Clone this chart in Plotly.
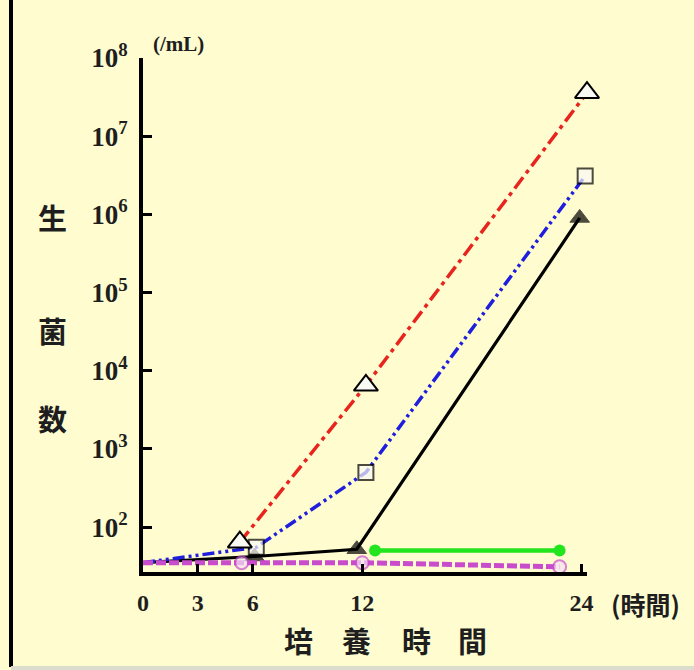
import plotly.graph_objects as go

# ---- data ----
black_x = [0, 6.1, 11.7, 23.9]
black_y = [35, 42, 52, 9.0e5]

green_x = [12.7, 22.8]
green_y = [50, 50]

blue_x = [0, 6.2, 12.2, 24.2]
blue_y = [35, 55, 500, 3.1e6]

red_x = [5.3, 12.2, 24.3]
red_y = [64, 6500, 3.6e7]

mag_x = [0, 5.4, 12.0, 22.8]
mag_y = [35, 35, 35, 31]

x_ticks = [0, 3, 6, 12, 24]
x_ticktext = ["0", "3", "6", "12", "24"]
y_ticks = [1e2, 1e3, 1e4, 1e5, 1e6, 1e7, 1e8]
y_ticktext = ["10<sup>%d</sup>" % e for e in range(2, 9)]

# ---- layout geometry ----
W, H = 694, 670
L, R, T, B = 143, 587, 58, 572
pw, ph = R - L, B - T

def px(x):
    return (x - L) / pw

def py(y):
    return (B - y) / ph

BG = "#FFFCD0"
SERIF = "Liberation Serif"
CJK = "Noto Sans CJK JP"
TXT = "#1E1E1E"

fig = go.Figure()

fig.add_trace(go.Scatter(
    x=black_x, y=black_y, mode="lines+markers",
    line=dict(color="black", width=3.2),
    marker=dict(symbol="triangle-up", size=[0, 17, 17, 17], color="black",
                line=dict(color="black", width=1)),
    cliponaxis=False, showlegend=False))

fig.add_trace(go.Scatter(
    x=green_x, y=green_y, mode="lines+markers",
    line=dict(color="#22E51E", width=4.5),
    marker=dict(symbol="circle", size=12, color="#22E51E"),
    cliponaxis=False, showlegend=False))

fig.add_trace(go.Scatter(
    x=blue_x, y=blue_y, mode="lines+markers",
    line=dict(color="#1E1EDC", width=3.5, dash="12px,4px,3px,4px,3px,4px"),
    marker=dict(symbol="square", size=[0, 15, 15, 15], color="#FAFAF5",
                line=dict(color="black", width=2)),
    cliponaxis=False, showlegend=False))

fig.add_trace(go.Scatter(
    x=red_x, y=red_y, mode="lines+markers",
    line=dict(color="#E8241E", width=3.5, dash="14px,5px,4px,5px"),
    marker=dict(symbol="triangle-up", size=21, color="#FAFAF5",
                line=dict(color="black", width=2)),
    cliponaxis=False, showlegend=False))

fig.add_trace(go.Scatter(
    x=mag_x, y=mag_y, mode="lines+markers",
    line=dict(color="#C84CCC", width=5, dash="10px,3px"),
    marker=dict(symbol="circle", size=[0, 13, 13, 13], color="#F6E2F4",
                line=dict(color="#C84CCC", width=2)),
    cliponaxis=False, showlegend=False))

fig.update_xaxes(
    range=[0, 24.3], showgrid=False, zeroline=False, automargin=False,
    showline=True, linecolor="black", linewidth=4,
    tickmode="array", tickvals=x_ticks, ticktext=x_ticktext,
    ticks="inside", ticklen=8, tickwidth=2.5, tickcolor="black",
    tickfont=dict(family=SERIF, size=24, color=TXT, weight="bold"),
    ticklabelstandoff=6,
)
fig.update_yaxes(
    type="log", range=[1.425, 8.0], showgrid=False, zeroline=False, automargin=False,
    showline=True, linecolor="black", linewidth=4,
    tickmode="array", tickvals=y_ticks, ticktext=y_ticktext,
    ticks="inside", ticklen=9, tickwidth=2.5, tickcolor="black",
    tickfont=dict(family=SERIF, size=27, color=TXT, weight="bold"),
    ticklabelstandoff=6,
)

def note(text, x, y, family, size):
    return dict(text=text, x=px(x), y=py(y), xref="paper", yref="paper",
                xanchor="center", yanchor="middle", showarrow=False,
                font=dict(family=family, size=size, color=TXT, weight="bold"))

ann = [note("(/mL)", 178, 44, SERIF, 21)]
for ch, yy in [("生", 217), ("菌", 330), ("数", 418)]:
    ann.append(note(ch, 52, yy, CJK, 29))
for ch, xx in [("培", 298), ("養", 356), ("時", 416), ("間", 472)]:
    ann.append(note(ch, xx, 640, CJK, 29))
ann.append(note("(時間)", 645, 604, CJK, 25))

shapes = [
    dict(type="line", xref="paper", yref="paper", x0=px(11), x1=px(11),
         y0=py(-5), y1=py(667), line=dict(color="black", width=4)),
    dict(type="line", xref="paper", yref="paper", x0=px(11), x1=px(700),
         y0=py(668), y1=py(668), line=dict(color="#DCDCCC", width=4)),
]

fig.update_layout(
    width=W, height=H,
    margin=dict(l=L, r=W - R, t=T, b=H - B, pad=0),
    paper_bgcolor=BG, plot_bgcolor=BG,
    annotations=ann, shapes=shapes,
)

fig.write_html("out.html", config={"displayModeBar": False},
               post_script="document.body.style.margin='0';document.body.style.overflow='hidden';")
